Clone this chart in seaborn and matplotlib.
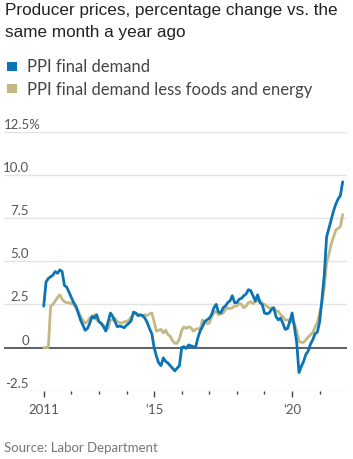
import numpy as np
import pandas as pd
import matplotlib
matplotlib.use('Agg')
from matplotlib import pyplot as plt
import matplotlib.transforms as mtransforms
from matplotlib.patches import Rectangle
import seaborn as sns

# monthly, Jan 2011 .. Nov 2021, % change vs. same month a year ago
start_year = 2011
ppi_final = [
    2.4, 3.8, 4.0, 4.1, 4.2, 4.4, 4.3, 4.5, 4.4, 3.6, 3.5, 3.2,
    2.9, 2.6, 2.4, 2.0, 1.6, 1.3, 1.0, 1.1, 1.4, 1.8, 1.7, 1.9,
    1.5, 1.4, 1.2, 0.95, 1.5, 2.0, 1.8, 1.5, 1.2, 1.25, 1.2, 1.15,
    1.3, 1.4, 1.55, 2.05, 2.0, 1.85, 1.9, 1.85, 1.7, 1.45, 1.1, 0.8,
    0.0, -0.5, -0.9, -1.05, -0.6, -0.8, -0.9, -1.05, -1.2, -1.35, -1.2, -1.05,
    0.0, 0.05, -0.05, 0.15, 0.1, 0.05, 0.0, 0.55, 0.95, 1.2, 1.5, 1.6,
    1.7, 1.9, 2.3, 2.5, 2.05, 2.0, 2.3, 2.4, 2.6, 2.7, 3.0, 2.6,
    2.6, 2.8, 2.85, 3.0, 3.1, 3.35, 3.3, 3.0, 2.7, 3.05, 2.6, 2.5,
    2.0, 1.95, 2.0, 2.2, 2.3, 1.8, 1.6, 1.7, 1.4, 1.05, 1.1, 1.5,
    2.0, 1.2, 0.3, -1.45, -1.1, -0.8, -0.4, -0.2, 0.2, 0.45, 0.8, 0.9,
    1.5, 2.8, 4.2, 6.4, 6.9, 7.4, 7.9, 8.3, 8.6, 8.8, 9.6,
]
ppi_core = [
    0.0, 0.0, 0.0, 2.4, 2.5, 2.7, 2.9, 3.05, 2.8, 2.65, 2.6, 2.6,
    2.55, 2.5, 2.3, 2.1, 1.8, 1.6, 1.4, 1.5, 1.7, 1.8, 1.9, 1.6,
    1.5, 1.4, 1.3, 1.15, 1.1, 1.6, 1.6, 1.7, 1.5, 1.45, 1.4, 1.5,
    1.5, 1.6, 1.75, 1.9, 2.0, 1.9, 1.85, 1.8, 1.9, 1.85, 1.95, 2.0,
    1.5, 0.95, 1.0, 1.05, 0.85, 1.0, 0.75, 0.65, 0.4, 0.25, 0.25, 0.5,
    1.0, 1.2, 1.1, 1.2, 1.15, 0.95, 1.05, 1.1, 1.05, 1.6, 1.5, 1.4,
    1.4, 1.8, 2.0, 2.1, 1.9, 1.95, 2.0, 2.2, 2.3, 2.25, 2.3, 2.4,
    2.4, 2.55, 2.5, 2.3, 2.4, 2.6, 2.65, 2.55, 2.65, 2.7, 2.75, 2.55,
    2.5, 2.4, 2.3, 2.3, 2.3, 2.1, 2.1, 1.9, 1.8, 1.6, 1.6, 1.5,
    1.5, 1.4, 0.95, 0.35, 0.3, 0.3, 0.45, 0.6, 0.75, 0.85, 1.2, 1.45,
    2.0, 2.6, 3.5, 4.9, 5.4, 6.0, 6.4, 6.8, 6.9, 7.0, 7.7,
]
series_names = ['PPI final demand', 'PPI final demand less foods and energy']
colors = ['#0a74b4', '#c2b984']
y_ticks = [-2.5, 0, 2.5, 5.0, 7.5, 10.0, 12.5]
y_labels = ['-2.5', '0', '2.5', '5.0', '7.5', '10.0', '12.5%']
x_major = [2011, 2015, 2020]
x_major_labels = ['2011', '\u201815', '\u201820']
x_minor = [2012, 2013, 2014, 2016, 2017, 2018, 2019, 2021]

t = start_year + np.arange(len(ppi_final)) / 12
df = pd.DataFrame({
    't': np.concatenate([t, t]),
    'value': ppi_final + ppi_core,
    'series': [series_names[0]] * len(t) + [series_names[1]] * len(t),
})

sns.set_style('white')
plt.rcParams['font.family'] = ['Liberation Sans', 'DejaVu Sans']

W, H = 353, 460
fig = plt.figure(figsize=(W / 100, H / 100), dpi=100)
ax = fig.add_axes([4 / W, 68.3 / H, 343 / W, 259 / H])

# gridlines first, lines on top
for v in y_ticks:
    if v == 0:
        ax.axhline(v, color='#333333', lw=1.1, zorder=3)
    else:
        ax.axhline(v, color='#e3e3e3', lw=1.0, zorder=1)

sns.lineplot(data=df, x='t', y='value', hue='series', hue_order=[series_names[1], series_names[0]],
             palette={series_names[0]: colors[0], series_names[1]: colors[1]},
             linewidth=2.0, legend=False, ax=ax, zorder=4)

ax.set_xlim(2009.56, 2021.99)
ax.set_ylim(-2.5, 12.5)
for s in ax.spines.values():
    s.set_visible(False)
ax.set_xlabel('')
ax.set_ylabel('')
ax.set_yticks([])
ax.set_xticks(x_major)
ax.set_xticklabels(x_major_labels)
ax.set_xticks(x_minor, minor=True)
ax.tick_params(axis='x', which='major', length=4, width=1, color='#444444', pad=5,
               labelsize=9.5, labelcolor='#555555', bottom=True)
ax.tick_params(axis='x', which='minor', length=2.5, width=1, color='#444444', bottom=True)
for lab in ax.get_xticklabels():
    lab.set_family(['Lato', 'DejaVu Sans'])

# y labels sit above their gridlines, right-aligned (top one starts at the left edge)
trans = mtransforms.offset_copy(mtransforms.blended_transform_factory(ax.transAxes, ax.transData),
                                fig=fig, y=2, units='dots')
xr = (29 - 4) / 343
for v, lab in zip(y_ticks, y_labels):
    if lab.endswith('%'):
        ax.text(0, v, lab, transform=trans, ha='left', va='bottom', fontsize=9.5,
                color='#555555', family=['Lato', 'DejaVu Sans'])
    else:
        ax.text(xr, v, lab, transform=trans, ha='right', va='bottom', fontsize=9.5,
                color='#555555', family=['Lato', 'DejaVu Sans'])

# title
fig.text(5 / W, 1 - 11 / H, 'Producer prices, percentage change vs. the', fontsize=12.3,
         color='#222222', va='center', ha='left')
fig.text(5 / W, 1 - 33 / H, 'same month a year ago', fontsize=12.3,
         color='#222222', va='center', ha='left')

# legend
for i, (name, c) in enumerate(zip(series_names, colors)):
    yc = 67.5 + 22 * i
    fig.add_artist(Rectangle((7 / W, 1 - (yc + 4.5) / H), 9.5 / W, 9.5 / H,
                             transform=fig.transFigure, color=c, lw=0))
    fig.text(27 / W, 1 - yc / H, name, fontsize=12, color='#444444', va='center', ha='left',
             family=['Lato', 'DejaVu Sans'])

fig.text(4 / W, 1 - 448 / H, 'Source: Labor Department', fontsize=9.5, color='#777777',
         va='center', ha='left', family=['Lato', 'DejaVu Sans'])

fig.savefig('out.png', dpi=100)
